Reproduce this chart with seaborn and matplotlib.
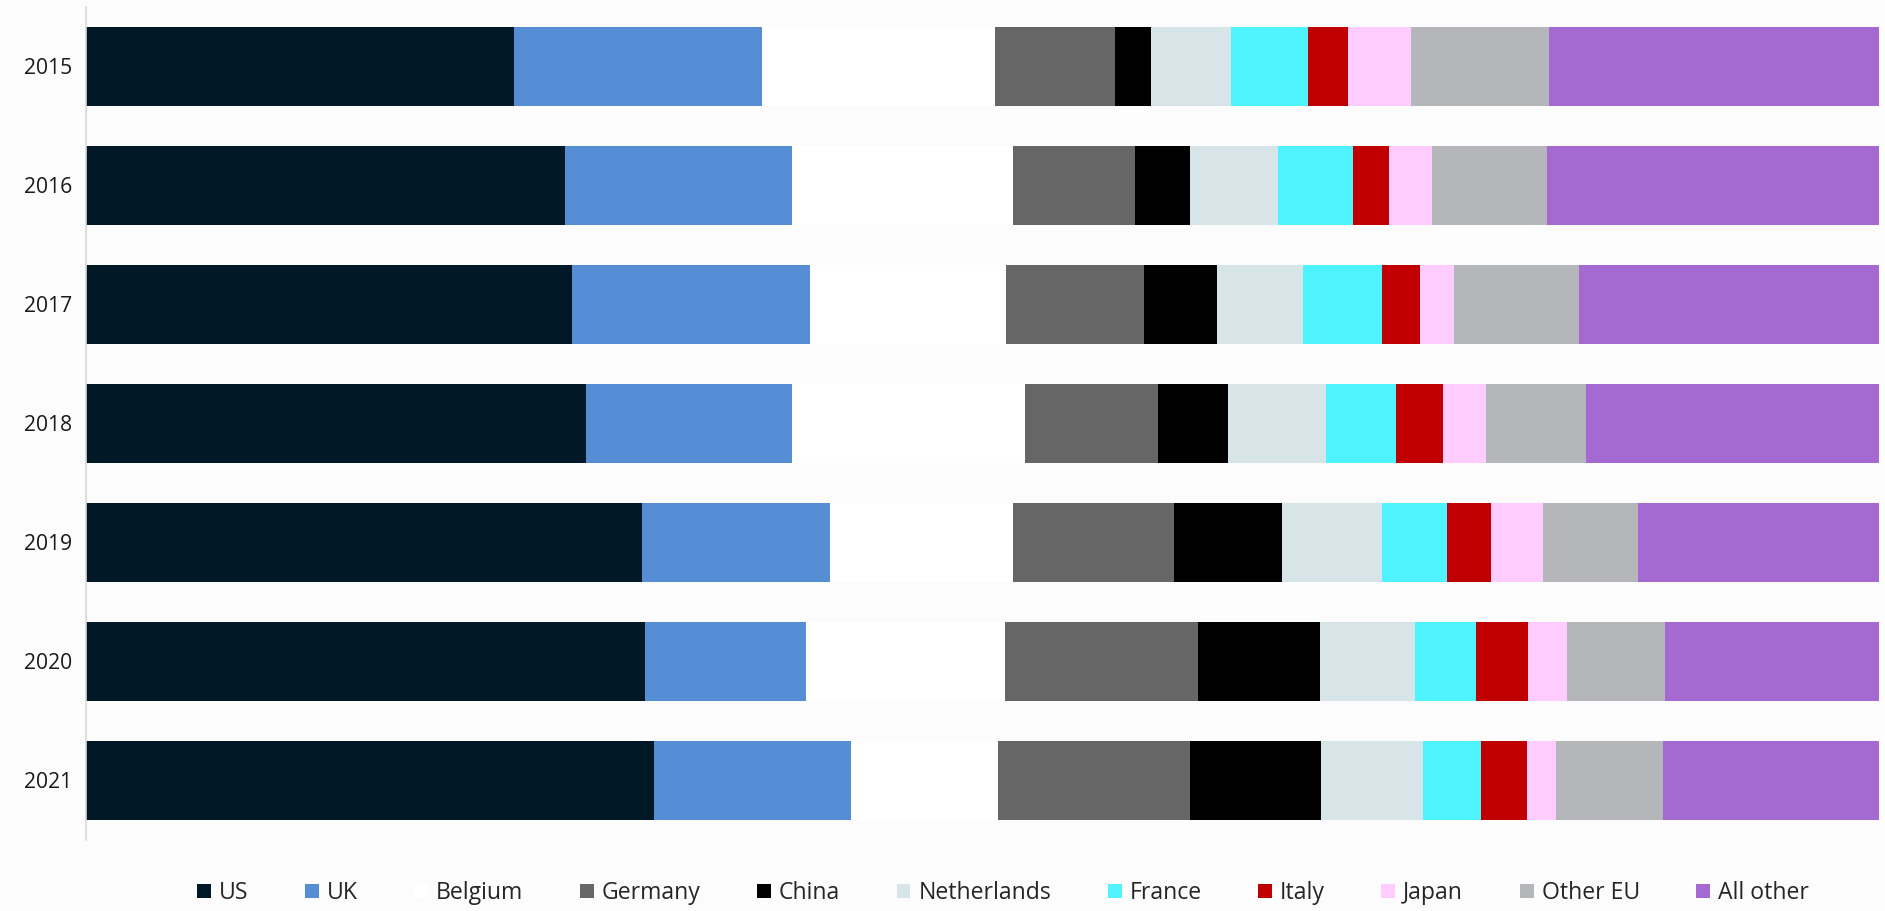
import matplotlib
matplotlib.use("Agg")
import matplotlib.pyplot as plt
from matplotlib.patches import Patch
import seaborn as sns
import pandas as pd
import numpy as np

years = ["2015", "2016", "2017", "2018", "2019", "2020", "2021"]
series = ["US", "UK", "Belgium", "Germany", "China", "Netherlands",
          "France", "Italy", "Japan", "Other EU", "All other"]
colors = ["#011827", "#558ED5", "#FFFFFF", "#666666", "#000000", "#D7E4E8",
          "#4FF3FF", "#C00000", "#FFCCFF", "#B5B6B9", "#A569D2"]

us          = [23.9, 26.7, 27.1, 27.9, 31.0, 31.2, 31.7]
uk          = [13.8, 12.7, 13.3, 11.5, 10.5,  9.0, 11.0]
belgium     = [13.0, 12.3, 10.9, 13.0, 10.2, 11.1,  8.2]
germany     = [ 6.7,  6.8,  7.7,  7.4,  9.0, 10.8, 10.7]
china       = [ 2.0,  3.1,  4.1,  3.9,  6.0,  6.8,  7.3]
netherlands = [ 4.5,  4.9,  4.8,  5.5,  5.6,  5.3,  5.7]
france      = [ 4.3,  4.2,  4.4,  3.9,  3.6,  3.4,  3.2]
italy       = [ 2.2,  2.0,  2.1,  2.6,  2.5,  2.9,  2.6]
japan       = [ 3.5,  2.4,  1.9,  2.4,  2.9,  2.2,  1.6]
other_eu    = [ 7.7,  6.4,  7.0,  5.6,  5.3,  5.5,  6.0]
all_other   = [18.4, 18.5, 16.7, 16.3, 13.4, 11.9, 12.0]

values = [us, uk, belgium, germany, china, netherlands, france, italy,
          japan, other_eu, all_other]

df = pd.DataFrame({s: v for s, v in zip(series, values)}, index=years)
df = df.div(df.sum(axis=1), axis=0) * 100
cum = df.cumsum(axis=1)
cum["Year"] = years

sns.set_theme(style="white")
plt.rcParams["font.family"] = ["Open Sans", "DejaVu Sans"]

bg = "#FCFCFC"
fig = plt.figure(figsize=(18.85, 9.11), dpi=100, facecolor=bg)
ax = fig.add_axes([86 / 1885, 1 - 840 / 911, (1878.5 - 86) / 1885, (840 - 6.7) / 911])
ax.set_facecolor("none")

for s, c in reversed(list(zip(series, colors))):
    sns.barplot(data=cum, y="Year", x=s, orient="h", color=c, ax=ax,
                width=0.667, linewidth=0, saturation=1, order=years)

ax.set_xlim(0, 100)
ax.set_ylim(6.5, -0.5)
ax.set_xlabel("")
ax.set_ylabel("")
ax.set_xticks([])
ax.tick_params(axis="y", length=0, pad=10, labelsize=15.2, labelcolor="#1a1a1a")
for sp in ["top", "right", "bottom"]:
    ax.spines[sp].set_visible(False)
ax.spines["left"].set_color("#D9D9D9")
ax.spines["left"].set_linewidth(1.2)

handles = [Patch(facecolor=c, edgecolor="none", label=s) for s, c in zip(series, colors)]
leg = fig.legend(handles=handles, loc="center", bbox_to_anchor=(1003 / 1885, 18 / 911),
                 ncol=11, frameon=False, fontsize=16.6, handlelength=0.6,
                 handleheight=0.6, handletextpad=0.35, columnspacing=2.45,
                 borderpad=0)
for t in leg.get_texts():
    t.set_color("#262626")

fig.savefig("out.png", dpi=100, facecolor=bg)
